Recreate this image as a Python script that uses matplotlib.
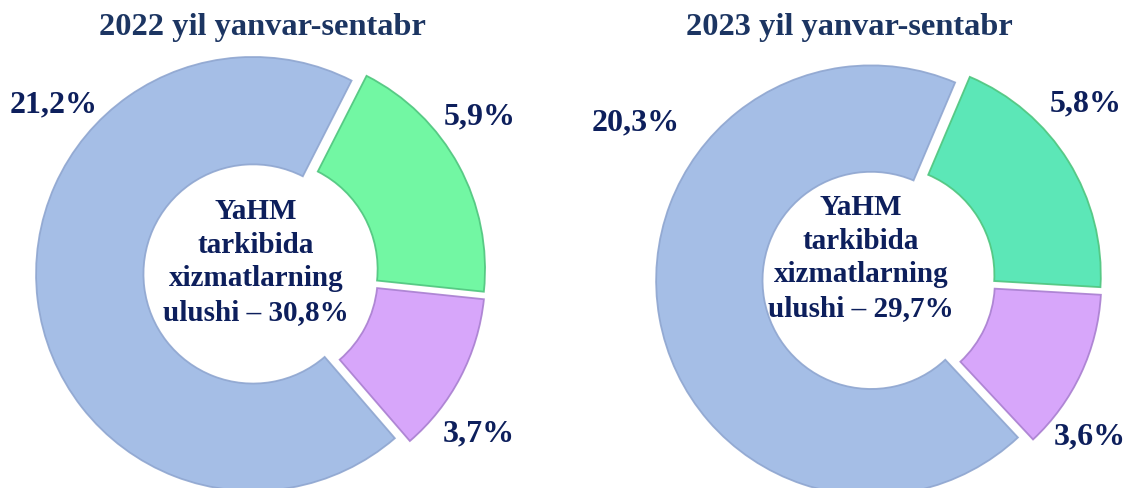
import matplotlib
matplotlib.use("Agg")
import matplotlib.pyplot as plt

# data
titles = ["2022 yil yanvar-sentabr", "2023 yil yanvar-sentabr"]
shares_2022 = [5.9, 3.7, 21.2]   # green, purple, blue
shares_2023 = [5.8, 3.6, 20.3]
colors_2022 = ["#72F7A3", "#D7A6FA", "#A5BEE6"]
colors_2023 = ["#5CE7B7", "#D7A6FA", "#A5BEE6"]
edges = ["#4FC57E", "#A97FD0", "#8FA6D0"]

W, H = 1129, 488
NAVY = "#0D1F5C"
plt.rcParams["font.family"] = ["Liberation Serif", "DejaVu Serif"]

fig = plt.figure(figsize=(W / 100, H / 100), dpi=100)
ax = fig.add_axes([0, 0, 1, 1])


def fmt(v):
    return f"{v:.1f}".replace(".", ",") + "%"


def donut(vals, cols, cx, cy, r, start, text_xy, lab_pos):
    ax.pie(vals, colors=cols, center=(cx, H - cy), radius=r,
           startangle=start, counterclock=False,
           explode=[8, 8, 8], frame=True,
           wedgeprops=dict(width=r * 0.495, edgecolor="none"))
    # soft bevel outline
    ax.pie(vals, colors=["none"] * 3, center=(cx, H - cy), radius=r,
           startangle=start, counterclock=False,
           explode=[8, 8, 8], frame=True,
           wedgeprops=dict(width=r * 0.495, facecolor="none",
                           linewidth=1.3, alpha=0.9))
    for w_, ec in zip(ax.patches[-3:], edges):
        w_.set_edgecolor(ec)
    for v, (lx, ly) in zip(vals, lab_pos):
        ax.text(lx, H - ly, fmt(v), ha="center", va="center",
                fontsize=23, fontweight="bold", color=NAVY)
    total = sum(vals)
    ax.text(text_xy[0], H - text_xy[1],
            "YaHM\ntarkibida\nxizmatlarning\nulushi – " + fmt(total),
            ha="center", va="center", fontsize=21, fontweight="bold",
            color=NAVY, linespacing=1.33)


donut(shares_2022, colors_2022, 261, 273, 217, 63, (256, 262),
      [(480, 117), (479, 434), (54, 105)])
donut(shares_2023, colors_2023, 879, 279, 215, 67, (861, 258),
      [(1086, 104), (1090, 437), (636, 123)])

ax.text(262, H - 28, titles[0], ha="center", va="center",
        fontsize=23.3, fontweight="bold", color="#1C3562")
ax.text(849, H - 28, titles[1], ha="center", va="center",
        fontsize=23.3, fontweight="bold", color="#1C3562")

ax.set_xlim(0, W)
ax.set_ylim(0, H)
ax.set_aspect("equal")
ax.set_axis_off()

fig.savefig("out.png", dpi=100)
